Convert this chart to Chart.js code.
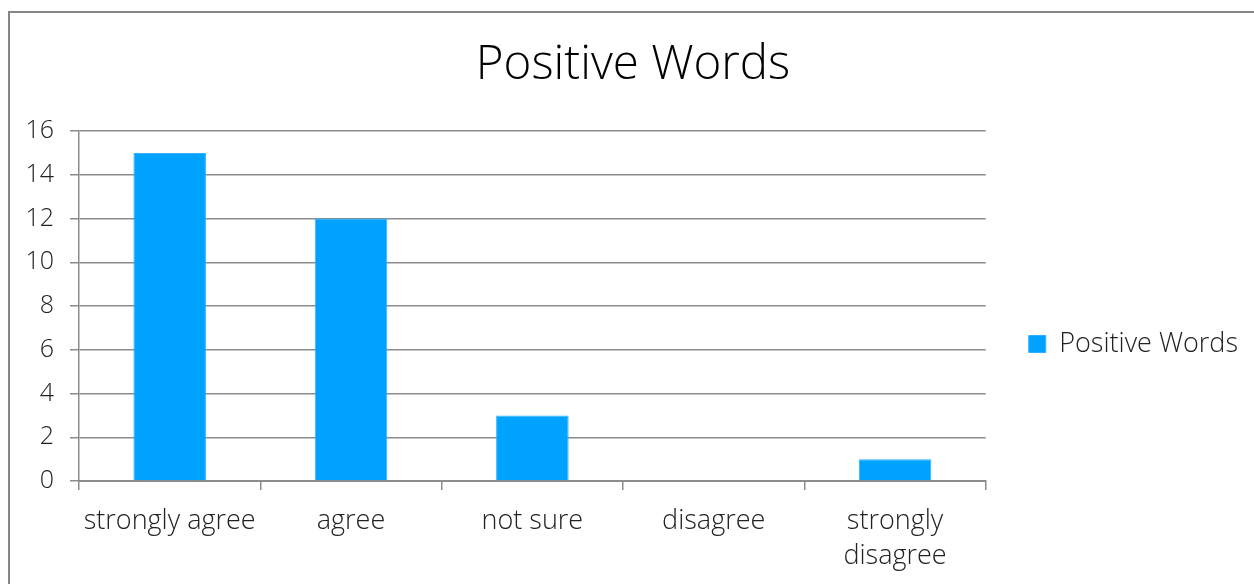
<!DOCTYPE html>
<html>
<head>
<meta charset="utf-8">
<title>Positive Words</title>
<script src="https://cdn.jsdelivr.net/npm/chart.js@4"></script>
<style>
  html, body { margin: 0; padding: 0; background: #fff; overflow: hidden; }
  #frame {
    position: absolute; left: 8px; top: 11px;
    width: 2000px; height: 2000px;
    border-left: 2px solid #868686; border-top: 2px solid #868686;
  }
  #wrap { position: absolute; left: 0; top: 0; width: 1254px; height: 584px; }
</style>
</head>
<body>
<div id="frame"></div>
<div id="wrap"><canvas id="wordsChart"></canvas></div>
<script>
const categories = ['strongly agree', 'agree', 'not sure', 'disagree', ['strongly', 'disagree']];
const positiveWords = [15, 12, 3, 0, 1];
const yTicks = [0, 2, 4, 6, 8, 10, 12, 14, 16];

const fontFamily = '"Open Sans", "Segoe UI", sans-serif';
const textColor = '#222';

function createChart() {
    const ctx = document.getElementById('wordsChart').getContext('2d');
    window.wordsChart = new Chart(ctx, {
        type: 'bar',
        data: {
            labels: categories,
            datasets: [
                {
                    label: 'Positive Words',
                    data: positiveWords,
                    backgroundColor: '#00a2ff',
                    borderColor: '#2eb1ff',
                    borderWidth: 1,
                    barPercentage: 1,
                    categoryPercentage: 0.4
                }
            ]
        },
        options: {
            responsive: true,
            maintainAspectRatio: false,
            animation: false,
            layout: {
                padding: { left: 18, right: 6, top: 0, bottom: 0 }
            },
            plugins: {
                title: {
                    display: true,
                    text: 'Positive Words',
                    color: '#000',
                    font: { family: fontFamily, size: 47.5, weight: 300, lineHeight: 1.2 },
                    padding: { top: 37, bottom: 37 }
                },
                legend: {
                    position: 'right',
                    // blank title pushes the legend item down a little
                    title: {
                        display: true,
                        text: ' ',
                        font: { size: 10, lineHeight: 1.2 },
                        padding: { top: 92, bottom: 0 }
                    },
                    labels: {
                        boxWidth: 17,
                        boxHeight: 17,
                        padding: 43,
                        color: textColor,
                        font: { family: fontFamily, size: 27, weight: 300 }
                    }
                },
                tooltip: { enabled: false }
            },
            scales: {
                x: {
                    grid: {
                        offset: true,
                        drawOnChartArea: false,
                        drawTicks: true,
                        tickLength: 9,
                        color: '#8c8c8c',
                        lineWidth: 1.5
                    },
                    border: { display: true, color: '#8c8c8c', width: 2 },
                    ticks: {
                        color: textColor,
                        padding: 14,
                        maxRotation: 0,
                        autoSkip: false,
                        font: { family: fontFamily, size: 27, weight: 300, lineHeight: 1.3 }
                    },
                    afterFit: function(scale) { scale.height = 103; }
                },
                y: {
                    min: 0,
                    max: 16,
                    afterBuildTicks: function(scale) {
                        scale.ticks = yTicks.map(function(v) { return { value: v }; });
                    },
                    grid: {
                        color: '#8c8c8c',
                        lineWidth: 1.5,
                        tickLength: 9
                    },
                    border: { display: true, color: '#8c8c8c', width: 1.5 },
                    ticks: {
                        color: textColor,
                        padding: 16,
                        font: { family: fontFamily, size: 25, weight: 300 }
                    },
                    afterFit: function(scale) { scale.width = 61; }
                }
            }
        }
    });
}

createChart();
</script>
</body>
</html>
